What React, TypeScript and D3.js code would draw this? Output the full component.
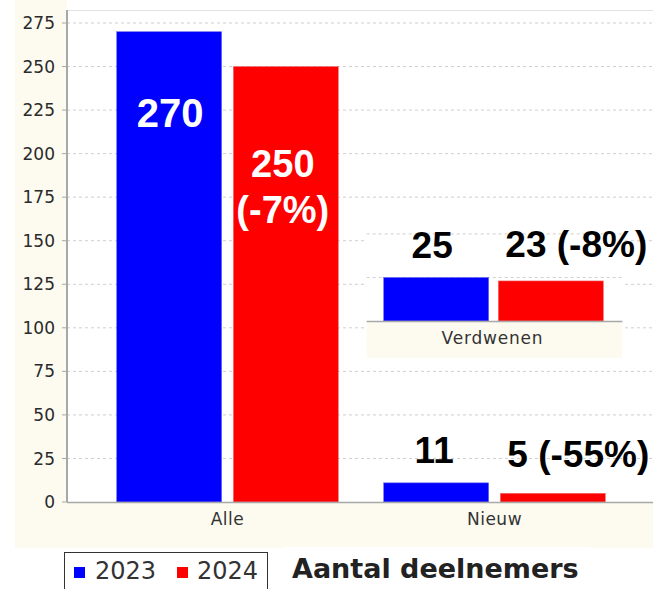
import React from "react";
import * as d3 from "d3";

const categories = ["Alle", "Nieuw"];
const seriesNames = ["2023", "2024"];
const values2023 = [270, 11];
const values2024 = [250, 5];
const changes2024 = ["-7%", "-55%"];
const insetCategory = "Verdwenen";
const insetValues = [25, 23];
const insetChange = "-8%";
const yTicks = [0, 25, 50, 75, 100, 125, 150, 175, 200, 225, 250, 275];
const colors = ["#0000ff", "#ff0000"];
const chartTitle = "Aantal deelnemers";

const W = 653;
const H = 589;
const CREAM = "#fdfbf0";
const AXIS_FONT = "'DejaVu Sans', Verdana, sans-serif";
const LABEL_FONT = "'Liberation Sans', Arial, sans-serif";

export default function App() {
  const left = 67;
  const right = 653;
  const top = 10;
  const bottom = 502;

  const y = d3.scaleLinear().domain([0, 275]).range([bottom, 23]);
  const x0 = d3
    .scaleBand<string>()
    .domain(categories)
    .range([94, 628])
    .paddingInner(0.17)
    .paddingOuter(0.085);
  const x1 = d3
    .scaleBand<string>()
    .domain(seriesNames)
    .range([0, x0.bandwidth()])
    .paddingInner(0.1);

  const bars = categories.flatMap((c, i) =>
    [values2023[i], values2024[i]].map((v, s) => ({
      c,
      s,
      v,
      x: (x0(c) as number) + (x1(seriesNames[s]) as number),
      w: x1.bandwidth(),
    }))
  );

  // inset (Verdwenen) drawn at the Nieuw band with the same scale
  const insetBase = 321;
  const insetBand = x0("Nieuw") as number;
  const insetLeft = insetBand - 17;
  const insetRight = insetBand + x0.bandwidth() + 17;
  const hOf = (v: number) => bottom - y(v);

  return (
    <svg
      width={W}
      height={H}
      style={{ position: "absolute", left: 0, top: 0, background: "#fff" }}
    >
      {/* backgrounds */}
      <rect x={15} y={0} width={left - 15} height={bottom + 46} fill={CREAM} />
      <rect x={15} y={bottom} width={right - 15} height={46} fill={CREAM} />
      <rect x={left} y={top} width={right - left} height={bottom - top} fill="#fff" />
      <line x1={left} x2={right} y1={top + 0.5} y2={top + 0.5} stroke="#e2e2e2" />

      {/* gridlines */}
      {yTicks
        .filter((t) => t > 0)
        .map((t) => (
          <line
            key={"g" + t}
            x1={left}
            x2={right}
            y1={y(t)}
            y2={y(t)}
            stroke="#cfcfcf"
            strokeDasharray="3,3"
          />
        ))}

      {/* y axis */}
      <line x1={left} x2={left} y1={top} y2={bottom} stroke="#a8a8a8" strokeWidth={2} />
      {yTicks.map((t) => (
        <g key={"t" + t}>
          <line x1={left - 5} x2={left} y1={y(t)} y2={y(t)} stroke="#a8a8a8" />
          <text
            x={55}
            y={y(t)}
            dy="0.36em"
            textAnchor="end"
            fontFamily={AXIS_FONT}
            fontSize={17}
            fill="#2a2a2a"
          >
            {t}
          </text>
        </g>
      ))}

      {/* bars */}
      {bars.map((b, i) => (
        <rect
          key={"b" + i}
          x={b.x}
          y={y(b.v)}
          width={b.w}
          height={bottom - y(b.v)}
          fill={colors[b.s]}
          stroke={b.s === 0 ? "#6f6fe8" : "#ee7070"}
          strokeWidth={0.6}
        />
      ))}

      {/* x axis */}
      <line x1={left} x2={right} y1={bottom + 0.5} y2={bottom + 0.5} stroke="#a8a8a8" strokeWidth={1.5} />
      {categories.map((c) => (
        <text
          key={"c" + c}
          x={(x0(c) as number) + x0.bandwidth() / 2}
          y={bottom + 23}
          textAnchor="middle"
          fontFamily={AXIS_FONT}
          fontSize={17}
          letterSpacing={0.5}
          fill="#333"
        >
          {c}
        </text>
      ))}

      {/* value labels: Alle (inside) */}
      <text
        x={bars[0].x + bars[0].w / 2 + 1}
        y={y(values2023[0]) + 95}
        textAnchor="middle"
        fontFamily={LABEL_FONT}
        fontWeight="bold"
        fontSize={40}
        fill="#fff"
      >
        {values2023[0]}
      </text>
      <text
        x={bars[1].x + bars[1].w / 2 - 3}
        y={y(values2024[0]) + 110}
        textAnchor="middle"
        fontFamily={LABEL_FONT}
        fontWeight="bold"
        fontSize={38}
        fill="#fff"
      >
        <tspan x={bars[1].x + bars[1].w / 2 - 3}>{values2024[0]}</tspan>
        <tspan x={bars[1].x + bars[1].w / 2 - 3} dy={46}>
          ({changes2024[0]})
        </tspan>
      </text>

      {/* value labels: Nieuw (outside) */}
      <text
        x={bars[2].x + bars[2].w / 2 - 2}
        y={y(values2023[1]) - 20}
        textAnchor="middle"
        fontFamily={LABEL_FONT}
        fontWeight="bold"
        fontSize={37}
        fill="#000"
      >
        {values2023[1]}
      </text>
      <text
        x={bars[3].x + 7}
        y={y(values2024[1]) - 26}
        textAnchor="start"
        fontFamily={LABEL_FONT}
        fontWeight="bold"
        fontSize={37}
        fill="#000"
      >
        {values2024[1]} ({changes2024[1]})
      </text>

      {/* inset: Verdwenen */}
      <g>
        <rect x={insetLeft} y={228} width={insetRight - insetLeft} height={insetBase - 228} fill="#fff" />
        <rect x={insetLeft} y={insetBase} width={insetRight - insetLeft} height={37} fill={CREAM} />
        {[25, 50].map((t) => (
          <line
            key={"ig" + t}
            x1={insetLeft}
            x2={insetRight}
            y1={insetBase - hOf(t)}
            y2={insetBase - hOf(t)}
            stroke="#cfcfcf"
            strokeDasharray="3,3"
          />
        ))}
        {insetValues.map((v, s) => (
          <rect
            key={"ib" + s}
            x={insetBand + (x1(seriesNames[s]) as number) - s * 2}
            y={insetBase - hOf(v)}
            width={x1.bandwidth()}
            height={hOf(v)}
            fill={colors[s]}
            stroke={s === 0 ? "#6f6fe8" : "#ee7070"}
            strokeWidth={0.6}
          />
        ))}
        <line x1={insetLeft} x2={insetRight} y1={insetBase + 0.5} y2={insetBase + 0.5} stroke="#a8a8a8" strokeWidth={1.5} />
        <text
          x={insetBand + x0.bandwidth() / 2 - 2}
          y={insetBase + 23}
          textAnchor="middle"
          fontFamily={AXIS_FONT}
          fontSize={17}
          letterSpacing={0.8}
          fill="#333"
        >
          {insetCategory}
        </text>
        <text
          x={insetBand + (x1("2023") as number) + x1.bandwidth() / 2 - 4}
          y={insetBase - hOf(insetValues[0]) - 19}
          textAnchor="middle"
          fontFamily={LABEL_FONT}
          fontWeight="bold"
          fontSize={37}
          fill="#000"
        >
          {insetValues[0]}
        </text>
        <text
          x={insetBand + (x1("2024") as number) + 5}
          y={insetBase - hOf(insetValues[1]) - 24}
          textAnchor="start"
          fontFamily={LABEL_FONT}
          fontWeight="bold"
          fontSize={37}
          fill="#000"
        >
          {insetValues[1]} ({insetChange})
        </text>
      </g>

      {/* legend */}
      <rect x={64.5} y={552.5} width={203} height={45} fill="#fff" stroke="#333" strokeWidth={1} />
      {seriesNames.map((s, i) => (
        <g key={"l" + s}>
          <rect x={74 + i * 103} y={567} width={11} height={11} fill={colors[i]} />
          <text
            x={95 + i * 102}
            y={579}
            fontFamily={AXIS_FONT}
            fontSize={24}
            fill="#333"
          >
            {s}
          </text>
        </g>
      ))}
      <rect x={283} y={547} width={307} height={42} fill="#fff" />
      <text
        x={292}
        y={578}
        fontFamily={AXIS_FONT}
        fontWeight="bold"
        fontSize={27}
        fill="#222"
      >
        {chartTitle}
      </text>
    </svg>
  );
}
